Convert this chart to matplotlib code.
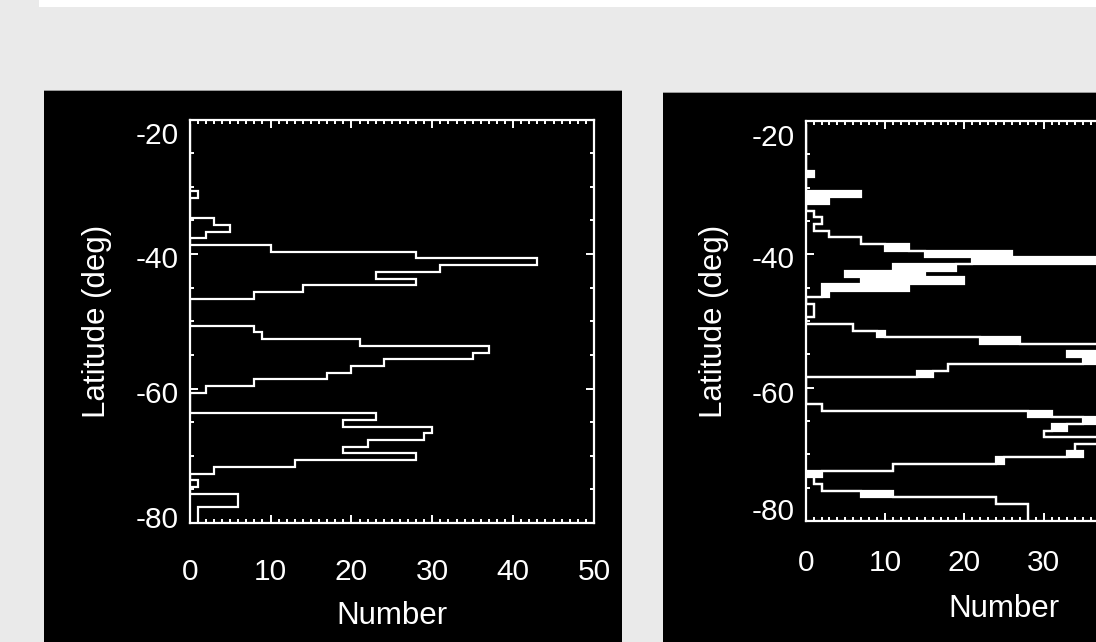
import numpy as np
import matplotlib
matplotlib.use("Agg")
import matplotlib.pyplot as plt
from matplotlib.patches import Rectangle
from matplotlib.ticker import MultipleLocator
from matplotlib.transforms import ScaledTranslation

plt.rcParams['font.family'] = ['Liberation Sans', 'DejaVu Sans']
plt.rcParams['axes.unicode_minus'] = False

# ---------------- data ----------------
x_ticks = [0, 10, 20, 30, 40, 50]
y_ticks = [-80, -60, -40, -20]
x_label = "Number"
y_label = "Latitude (deg)"

# left panel: 1-degree latitude bins (bottom to top)
lat_edges_left = np.arange(-80.65, -20.6, 1.0)
counts_left = [1, 1, 1, 6, 6, 0, 1, 0, 3, 13,
               28, 19, 22, 29, 30, 19, 23, 0, 0, 0,
               2, 8, 17, 20, 24, 35, 37, 21, 9, 8,
               0, 0, 0, 0, 8, 14, 28, 23, 31, 43,
               28, 10, 0, 2, 5, 3, 0, 0, 0, 1,
               0, 0, 0, 0, 0, 0, 0, 0, 0, 0]

# right panel: per-bin low / high counts (filled between them)
lat_edges_right = np.arange(-80.45, -20.4, 1.0)
counts_right_lo = [28, 28, 28, 24, 7, 2, 1, 0, 11, 24,
                   33, 34, 40, 30, 31, 35, 28, 2, 0, 0,
                   0, 0, 14, 18, 35, 33, 40, 22, 9, 6,
                   0, 1, 1, 0, 2, 2, 7, 5, 11, 21,
                   15, 10, 7, 3, 1, 2, 1, 0, 0, 0,
                   0, 0, 0, 0, 0, 0, 0, 0, 0, 0]
counts_right_hi = [28, 28, 28, 24, 11, 2, 1, 2, 11, 25,
                   35, 34, 40, 30, 33, 40, 31, 2, 0, 0,
                   0, 0, 16, 18, 40, 40, 40, 27, 10, 6,
                   0, 1, 1, 0, 3, 13, 20, 15, 19, 44,
                   26, 13, 7, 3, 1, 2, 1, 0, 3, 7,
                   0, 0, 1, 0, 0, 0, 0, 0, 0, 0]

# ---------------- figure ----------------
W, H, DPI = 1096, 642, 100
fig = plt.figure(figsize=(W / DPI, H / DPI), dpi=DPI, facecolor='#eaeaea')


def px_rect(x0, y0, x1, y1, color):
    fig.patches.append(Rectangle((x0 / W, 1 - y1 / H), (x1 - x0) / W, (y1 - y0) / H,
                                 transform=fig.transFigure, facecolor=color,
                                 edgecolor='none', zorder=-5))


px_rect(38.5, 0, W, 7.3, 'white')
px_rect(44, 90, 622, H, '#9a9a9a')
px_rect(44, 91, 622, H, 'black')
px_rect(663, 92, W, H, '#9a9a9a')
px_rect(663, 93, W, H, 'black')


def make_ax(left, top, right, bottom):
    ax = fig.add_axes([left / W, 1 - bottom / H, (right - left) / W, (bottom - top) / H])
    ax.set_zorder(1)
    return ax


def style(ax, offsets, xpad, ylabpad, xlabpad, max_visible_x):
    ax.set_facecolor('black')
    for s in ax.spines.values():
        s.set_color('white')
        s.set_linewidth(1.6)
    ax.set_xlim(0, 50)
    ax.set_ylim(-80, -20)
    ax.set_xticks(x_ticks)
    ax.set_yticks(y_ticks)
    ax.xaxis.set_minor_locator(MultipleLocator(1))
    ax.yaxis.set_minor_locator(MultipleLocator(5))
    ax.tick_params(which='both', direction='in', top=True, right=True,
                   colors='white', labelcolor='white', labelsize=21.5, width=1.4)
    ax.tick_params(which='major', length=6)
    ax.tick_params(which='minor', length=3)
    ax.tick_params(axis='x', pad=xpad)
    ax.tick_params(axis='y', pad=8)
    ax.set_xlabel(x_label, color='white', fontsize=22.5, labelpad=xlabpad)
    ax.set_ylabel(y_label, color='white', fontsize=22.5, labelpad=ylabpad)
    for tick, dy in zip(ax.yaxis.get_major_ticks(), offsets):
        tick.label1.set_transform(tick.label1.get_transform() +
                                  ScaledTranslation(0, dy / DPI, fig.dpi_scale_trans))
    # tick labels that fall outside the visible (cropped) figure are not shown
    for tick, v in zip(ax.xaxis.get_major_ticks(), x_ticks):
        if v > max_visible_x:
            tick.label1.set_visible(False)


# left panel
axl = make_ax(189.7, 119.6, 594, 523)
style(axl, [6, -3, -3, -13], 25, 17, 11, 50)
axl.stairs(counts_left, lat_edges_left, orientation='horizontal',
           color='white', linewidth=1.6, zorder=3)

# right panel (extends beyond the figure edge)
axr = make_ax(805.7, 120.9, 1202.2, 521.1)
style(axr, [12, -4, -3, -14], 20, 16.5, 12, 35)
axr.stairs(counts_right_hi, lat_edges_right, baseline=counts_right_lo,
           orientation='horizontal', fill=True, color='white', linewidth=0, zorder=2)
axr.stairs(counts_right_hi, lat_edges_right, orientation='horizontal',
           color='white', linewidth=1.6, zorder=3)
axr.stairs(counts_right_lo, lat_edges_right, orientation='horizontal',
           color='white', linewidth=1.6, zorder=3)

fig.savefig('out.png', dpi=DPI, facecolor=fig.get_facecolor())
